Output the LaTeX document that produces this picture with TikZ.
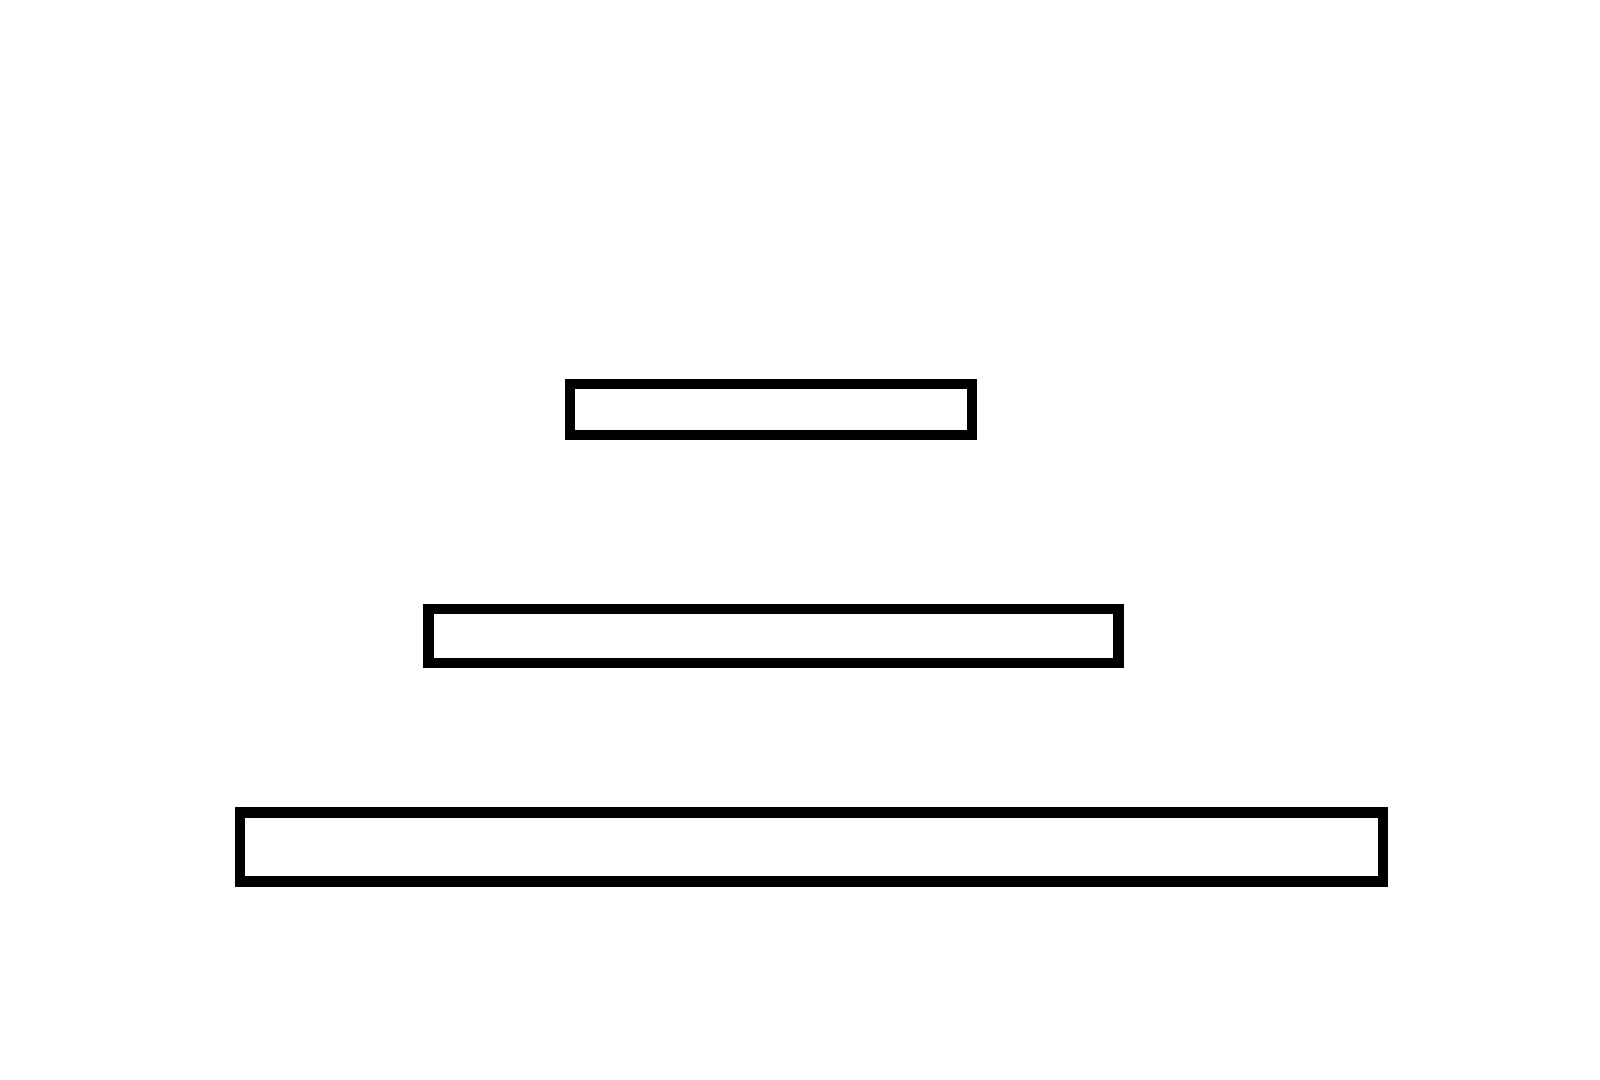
\documentclass[tikz,border=0pt]{standalone}
\begin{document}
\begin{tikzpicture}[x=1pt,y=1pt,
  bar/.style={draw=black, line width=5.25pt, fill=white, inner sep=0pt, outer sep=0pt}]
\useasboundingbox (0,0) rectangle (800,540);
\fill[white] (0,0) rectangle (800,540);
\node[bar, minimum width=201pt, minimum height=25.5pt] (top) at (385.5,335.25) {};
\node[bar, minimum width=345pt, minimum height=27pt] (mid) at (386.8,222) {};
\node[bar, minimum width=571.5pt, minimum height=34.5pt] (bot) at (405.75,116.5) {};
\end{tikzpicture}
\end{document}
